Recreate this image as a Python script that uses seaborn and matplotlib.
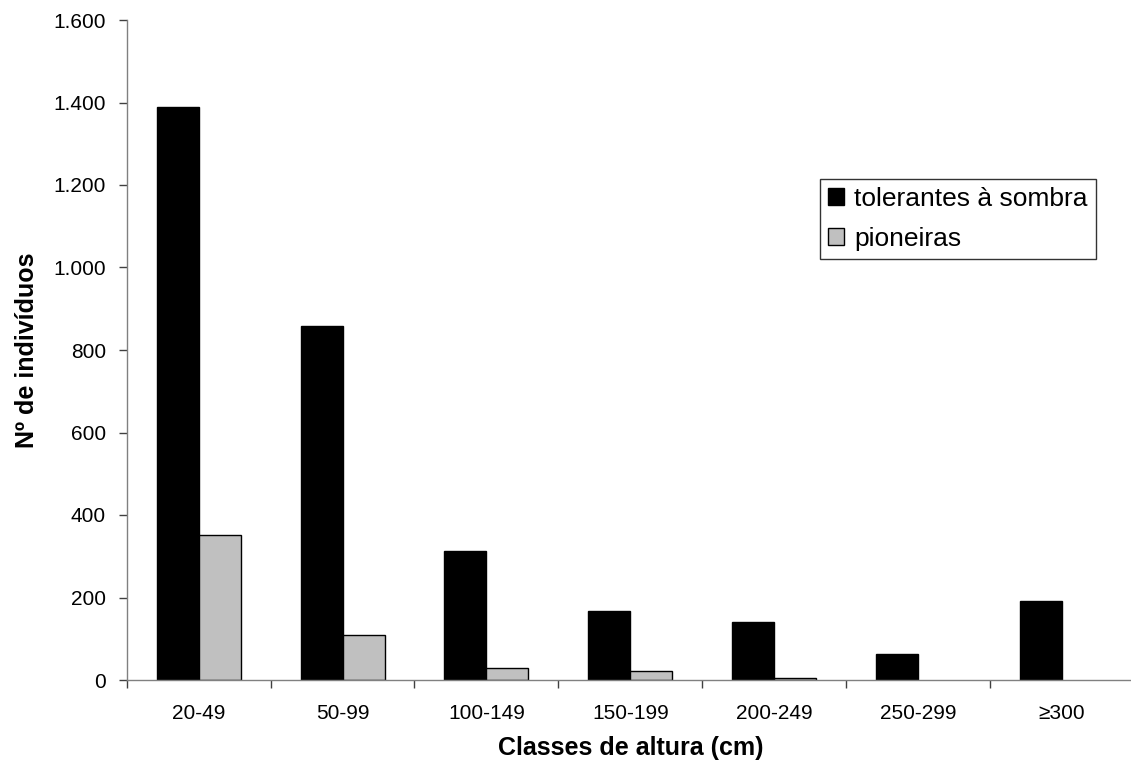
import matplotlib
matplotlib.use("Agg")
import matplotlib.pyplot as plt
import matplotlib.ticker as mticker
import seaborn as sns
import pandas as pd
import numpy as np

categories = ["20-49", "50-99", "100-149", "150-199", "200-249", "250-299", "≥300"]
tolerantes = [1389, 858, 313, 168, 140, 62, 192]
pioneiras = [352, 109, 29, 22, 5, 0, 0]
series_names = ["tolerantes à sombra", "pioneiras"]
y_ticks = [0, 200, 400, 600, 800, 1000, 1200, 1400, 1600]

df = pd.DataFrame({
    "classe": categories * 2,
    "valor": tolerantes + pioneiras,
    "grupo": [series_names[0]] * len(categories) + [series_names[1]] * len(categories),
})

sns.set_theme(style="white")
plt.rcParams['font.family'] = ['Liberation Sans', 'DejaVu Sans']
plt.rcParams['text.color'] = 'black'
plt.rcParams['axes.labelcolor'] = 'black'

fig = plt.figure(figsize=(11.31, 7.72), dpi=100)
ax = fig.add_axes([126.7 / 1131, 92 / 772, (1134 - 126.7) / 1131, 660 / 772])

sns.barplot(data=df, x="classe", y="valor", hue="grupo", order=categories,
            hue_order=series_names, palette=["black", "#c0c0c0"],
            width=0.584, edgecolor="black", linewidth=1.0, ax=ax, saturation=1)

for p in ax.patches:
    if p.get_height() == 0:
        p.set_linewidth(0)

ax.set_xlim(-0.5, len(categories) - 0.5)
ax.set_ylim(0, 1600)
ax.set_yticks(y_ticks)
ax.yaxis.set_major_formatter(mticker.FuncFormatter(lambda v, p: f"{int(v):,}".replace(",", ".")))

for s in ["top", "right"]:
    ax.spines[s].set_visible(False)
for s in ["left", "bottom"]:
    ax.spines[s].set_color("#808080")
    ax.spines[s].set_linewidth(1.0)

ax.xaxis.set_minor_locator(mticker.FixedLocator(np.arange(-0.5, len(categories), 1.0)))
ax.tick_params(axis="x", which="major", length=0, pad=17, labelsize=15, colors="black")
ax.tick_params(axis="x", which="minor", length=6, width=1, color="#404040", direction="out", bottom=True)
ax.tick_params(axis="y", which="major", length=6, width=1, color="#404040", direction="out",
               left=True, pad=9, labelsize=15, labelcolor="black")

ax.set_xlabel("Classes de altura (cm)", fontsize=18, fontweight="bold", labelpad=10, color="black")
ax.set_ylabel("Nº de indivíduos", fontsize=18, fontweight="bold", labelpad=10, color="black")

leg = ax.legend(loc="upper left", bbox_to_anchor=((820 - 126.7) / 1007.3, (680 - 179) / 660),
                borderaxespad=0, fontsize=19, frameon=True, fancybox=False, shadow=False,
                handlelength=0.6, handleheight=0.6, handletextpad=0.4, labelspacing=0.6,
                borderpad=0.3)
leg.get_frame().set_edgecolor("black")
leg.get_frame().set_linewidth(1.0)
for h in leg.legend_handles:
    h.set_edgecolor("black")
    h.set_linewidth(1.0)
for t in leg.get_texts():
    t.set_color("black")

fig.savefig("out.png", dpi=100)
